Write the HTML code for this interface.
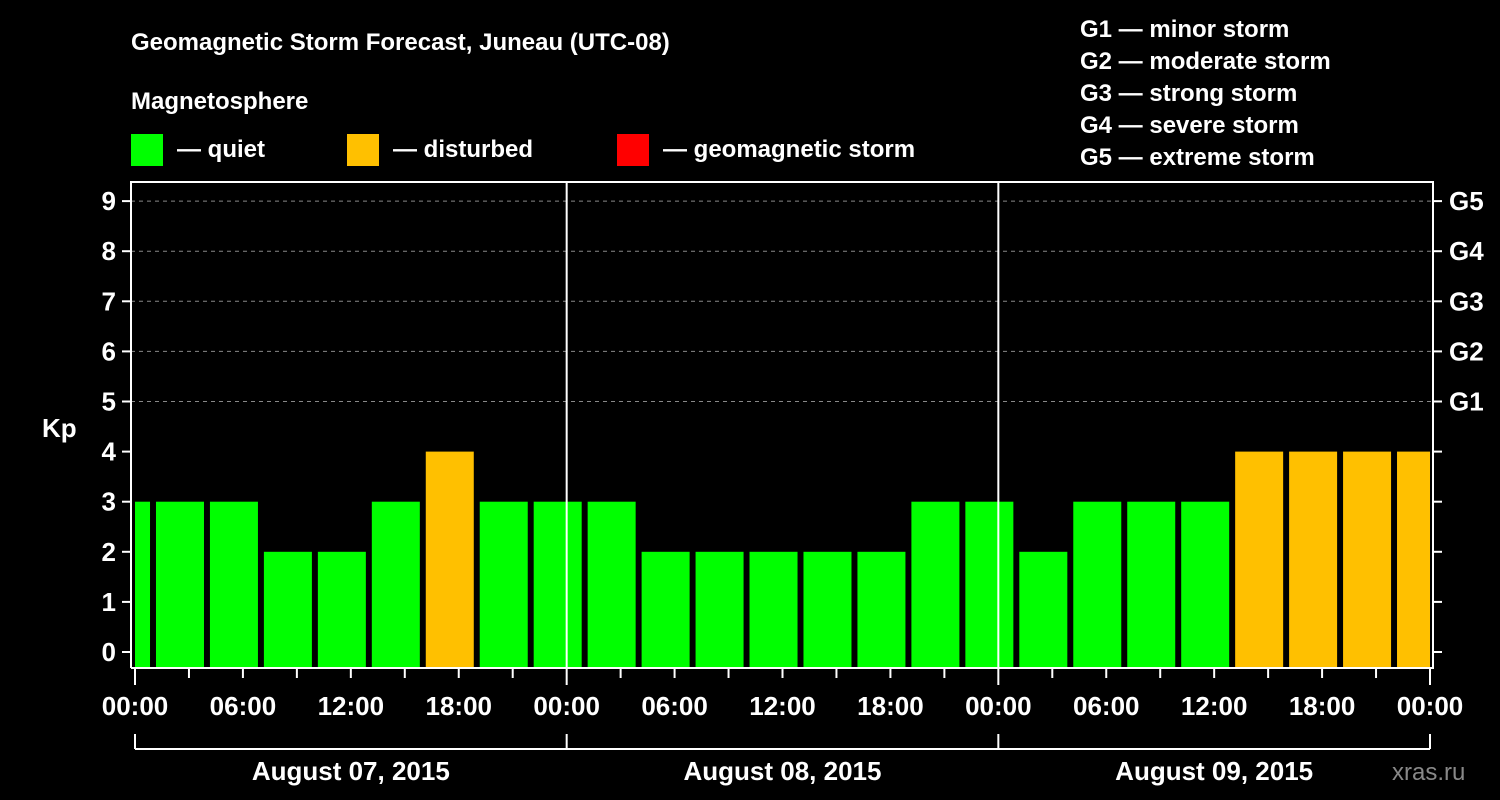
<!DOCTYPE html>
<html><head><meta charset="utf-8"><style>
html,body{margin:0;padding:0;background:#000;}
svg{display:block;font-family:"Liberation Sans",Arial,sans-serif;font-weight:bold;}
</style></head><body>
<svg id="c" width="1500" height="800" viewBox="0 0 1500 800">
<rect width="1500" height="800" fill="#000"/>
<text x="131" y="50" fill="#fff" font-size="24">Geomagnetic Storm Forecast, Juneau (UTC-08)</text>
<text x="131" y="109" fill="#fff" font-size="24">Magnetosphere</text>
<g><rect x="131" y="134" width="32" height="32" fill="#00ff00"/><text x="177" y="157" fill="#fff" font-size="24">— quiet</text></g>
<g><rect x="347" y="134" width="32" height="32" fill="#ffc000"/><text x="393" y="157" fill="#fff" font-size="24">— disturbed</text></g>
<g><rect x="617" y="134" width="32" height="32" fill="#ff0000"/><text x="663" y="157" fill="#fff" font-size="24">— geomagnetic storm</text></g>
<g fill="#fff" font-size="24">
<text x="1080" y="37">G1 — minor storm</text>
<text x="1080" y="69">G2 — moderate storm</text>
<text x="1080" y="101">G3 — strong storm</text>
<text x="1080" y="133">G4 — severe storm</text>
<text x="1080" y="165">G5 — extreme storm</text>
</g>
<text x="42" y="437" fill="#fff" font-size="26">Kp</text>
<text x="1392" y="780" fill="#888" font-size="24" font-weight="normal">xras.ru</text>
<g id="plot"></g>
</svg>
<script>
const kpValues = [3,3,3,2,2,3,4,3,3,3,2,2,2,2,2,3,3,2,3,3,3,4,4,4,4];
const yTicks = [0,1,2,3,4,5,6,7,8,9];
const gLabels = ["G1","G2","G3","G4","G5"];
const hourLabels = ["00:00","06:00","12:00","18:00"];
const dayLabels = ["August 07, 2015","August 08, 2015","August 09, 2015"];

const NS="http://www.w3.org/2000/svg";
const g=document.getElementById('plot');
const X0=135, X1=1430, L=131, R=1433, T=182, B=668;
const pxPerHour=(X1-X0)/72;
const xs=h=>X0+h*pxPerHour;
const ys=v=>652-v*50.1;
function el(t,a,p){const e=document.createElementNS(NS,t);for(const k in a)e.setAttribute(k,a[k]);(p||g).appendChild(e);return e;}
// grid
yTicks.forEach(v=>{
  if(v>=5){const l=el('line',{x1:L,x2:R,y1:ys(v),y2:ys(v),stroke:'#888','stroke-width':1,'stroke-dasharray':'4,4'});
  }
});
// bars
const clip=el('clipPath',{id:'pc'});el('rect',{x:X0,y:T,width:X1-X0,height:B-T},clip);
const bg=el('g',{'clip-path':'url(#pc)'});
kpValues.forEach((v,k)=>{
  const start=-11/6+3*k; // hours
  const color=v>=5?'#ff0000':(v>=4?'#ffc000':'#00ff00');
  const r=el('rect',{x:xs(start),y:ys(v),width:48,height:B-ys(v),fill:color},bg);
  
  
});
// day separators
[1,2].forEach(d=>{const l=el('line',{x1:xs(24*d),x2:xs(24*d),y1:T,y2:B,stroke:'#fff','stroke-width':2});
});
// frame
const f=el('path',{d:`M${L},${B} L${L},${T} L${R},${T} L${R},${B} L${L},${B}`,fill:'none',stroke:'#fff','stroke-width':2});

// y ticks and labels
yTicks.forEach(v=>{
  el('line',{x1:122,x2:L,y1:ys(v),y2:ys(v),stroke:'#fff','stroke-width':2});
  el('line',{x1:R,x2:1442,y1:ys(v),y2:ys(v),stroke:'#fff','stroke-width':2});
  const t=el('text',{x:116,y:ys(v)+9,fill:'#fff','font-size':26,'text-anchor':'end'});t.textContent=v;
  
});
gLabels.forEach((s,i)=>{const t=el('text',{x:1449,y:ys(5+i)+9,fill:'#fff','font-size':26});t.textContent=s;
});
// x ticks
for(let h=0;h<=72;h+=3){
  const big=h%24===0;
  el('line',{x1:xs(h),x2:xs(h),y1:B,y2:big?685:678,stroke:'#fff','stroke-width':2});
  if(h%6===0){const t=el('text',{x:xs(h),y:715,fill:'#fff','font-size':26,'text-anchor':'middle'});
  t.textContent=hourLabels[(h%24)/6];}
}
// day bracket
el('line',{x1:X0,x2:X1,y1:749,y2:749,stroke:'#fff','stroke-width':2});
for(let d=0;d<=3;d++)el('line',{x1:xs(24*d),x2:xs(24*d),y1:734,y2:749,stroke:'#fff','stroke-width':2});
dayLabels.forEach((s,d)=>{const t=el('text',{x:xs(24*d+12),y:780,fill:'#fff','font-size':26,'text-anchor':'middle'});
t.textContent=s;});
</script>
</body></html>
